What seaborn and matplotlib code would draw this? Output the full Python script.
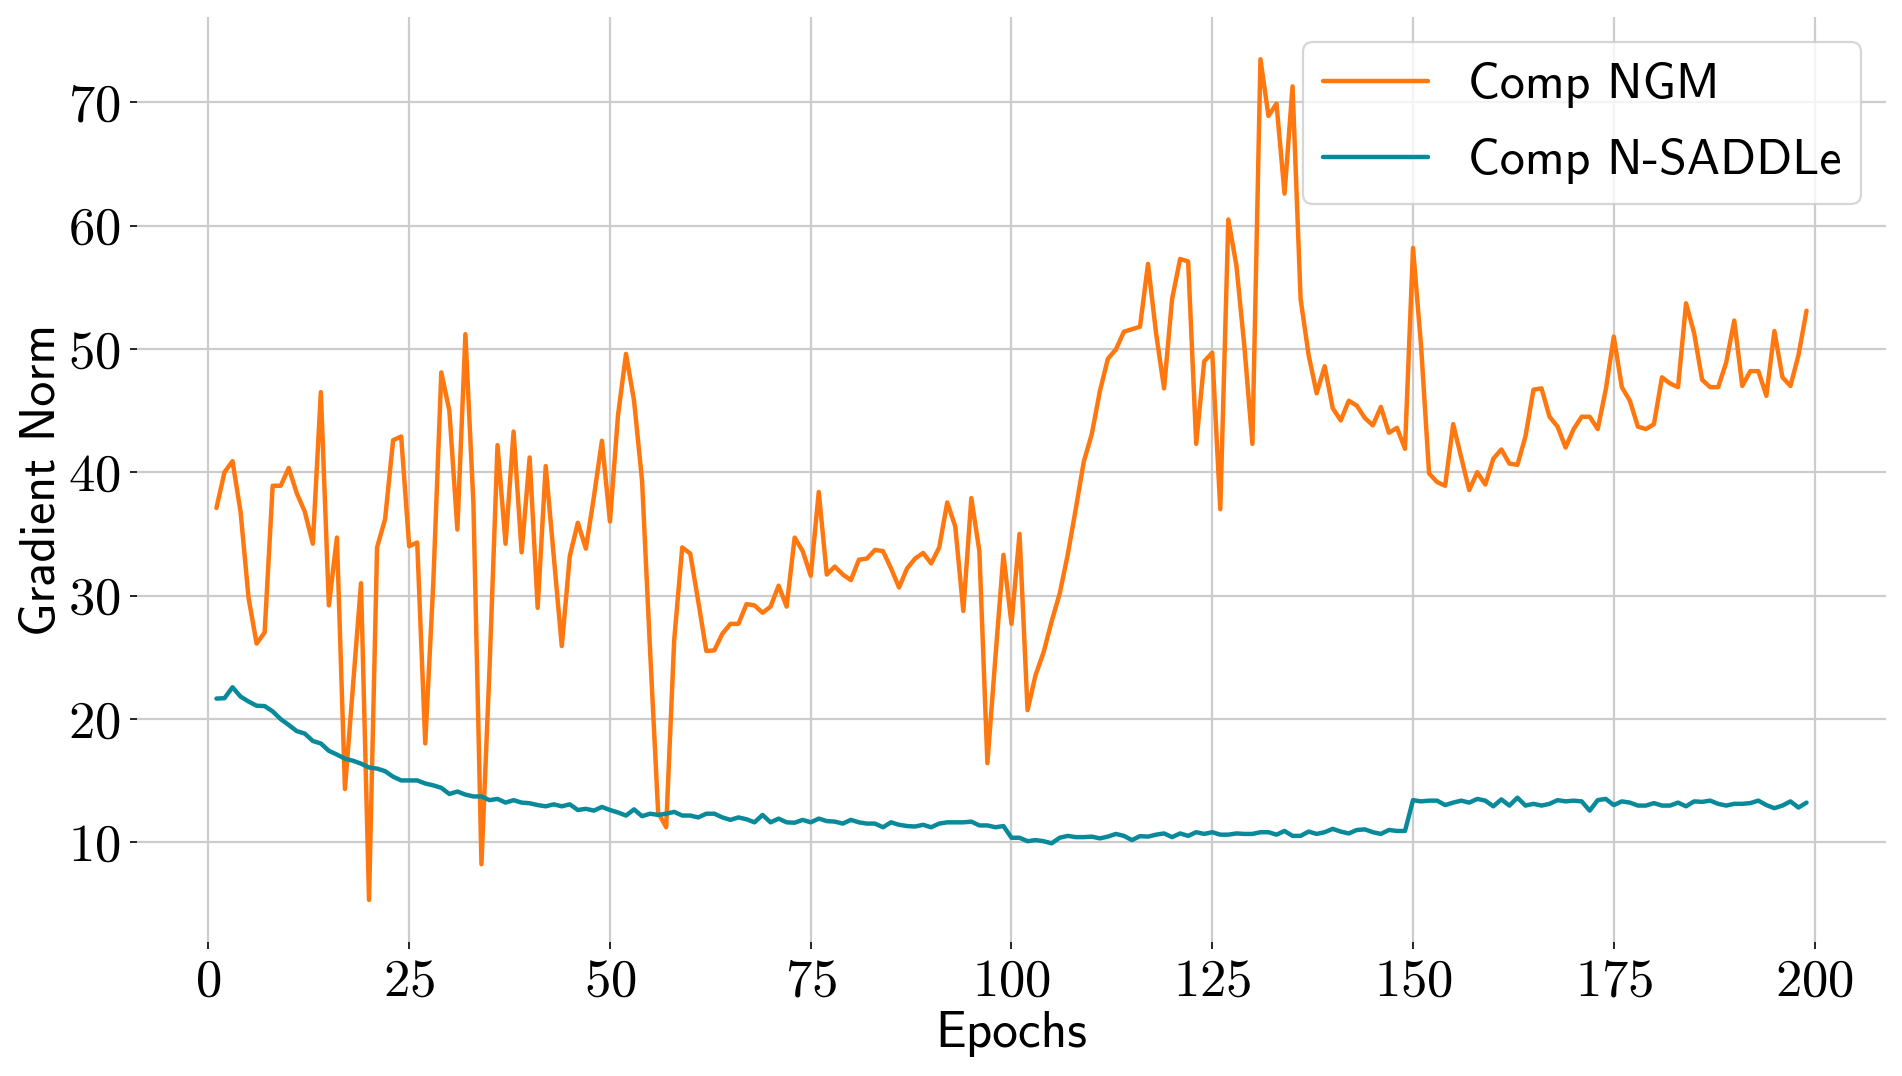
import pandas as pd
import matplotlib
matplotlib.use("Agg")
import matplotlib.pyplot as plt
import seaborn as sns

# Gradient norm per epoch
epochs = list(range(1, 200))

comp_ngm = [
    37.1, 40.0, 40.9, 36.8, 29.8, 26.1, 27.0, 38.9, 38.9, 40.35,
    38.3, 36.8, 34.2, 46.5, 29.2, 34.7, 14.3, 22.7, 31.0, 5.3,
    33.9, 36.2, 42.6, 42.9, 34.0, 34.3, 18.0, 31.0, 48.1, 45.0,
    35.35, 51.2, 37.4, 8.2, 24.0, 42.2, 34.2, 43.3, 33.5, 41.2,
    29.0, 40.5, 33.2, 25.9, 33.2, 35.9, 33.8, 38.0, 42.55, 36.0,
    44.6, 49.6, 45.8, 39.3, 25.5, 12.4, 11.2, 26.4, 33.9, 33.4,
    29.5, 25.5, 25.55, 26.9, 27.7, 27.7, 29.3, 29.2, 28.6, 29.1,
    30.8, 29.1, 34.7, 33.6, 31.6, 38.4, 31.7, 32.35, 31.7, 31.25,
    32.9, 33.0, 33.7, 33.6, 32.2, 30.65, 32.2, 33.0, 33.45, 32.6,
    33.9, 37.55, 35.6, 28.75, 37.9, 33.6, 16.4, 25.0, 33.3, 27.7,
    35.0, 20.7, 23.55, 25.4, 27.9, 30.15, 33.3, 37.0, 40.85, 43.1,
    46.55, 49.2, 49.96, 51.4, 51.6, 51.8, 56.9, 51.3, 46.8, 54.06,
    57.3, 57.1, 42.3, 49.0, 49.7, 37.0, 60.5, 56.8, 50.2, 42.3,
    73.5, 68.9, 69.9, 62.6, 71.3, 54.06, 49.5, 46.4, 48.6, 45.2,
    44.2, 45.8, 45.4, 44.4, 43.8, 45.3, 43.2, 43.6, 41.9, 58.2,
    50.25, 39.9, 39.2, 38.9, 43.9, 41.2, 38.55, 40.0, 39.0, 41.1,
    41.85, 40.7, 40.6, 42.9, 46.7, 46.8, 44.5, 43.7, 42.0, 43.5,
    44.5, 44.5, 43.5, 46.7, 51.0, 46.9, 45.8, 43.7, 43.5, 43.9,
    47.7, 47.2, 46.9, 53.7, 51.3, 47.5, 46.9, 46.9, 48.9, 52.3,
    47.0, 48.2, 48.2, 46.2, 51.45, 47.7, 47.0, 49.5, 53.1,
]

comp_nsaddle = [
    21.64, 21.67, 22.56, 21.8, 21.4, 21.06, 21.03, 20.6, 19.97, 19.5,
    19.0, 18.8, 18.2, 18.0, 17.4, 17.1, 16.76, 16.6, 16.36, 16.05,
    15.96, 15.75, 15.3, 15.0, 15.0, 15.0, 14.75, 14.6, 14.4, 13.9,
    14.1, 13.85, 13.7, 13.7, 13.4, 13.5, 13.2, 13.4, 13.2, 13.15,
    13.0, 12.9, 13.06, 12.9, 13.06, 12.6, 12.7, 12.55, 12.85, 12.6,
    12.4, 12.15, 12.65, 12.1, 12.3, 12.2, 12.3, 12.45, 12.15, 12.15,
    12.0, 12.3, 12.3, 12.0, 11.8, 12.0, 11.85, 11.6, 12.2, 11.6,
    11.9, 11.6, 11.57, 11.8, 11.6, 11.9, 11.7, 11.66, 11.5, 11.8,
    11.6, 11.5, 11.5, 11.2, 11.6, 11.4, 11.3, 11.26, 11.4, 11.2,
    11.5, 11.6, 11.6, 11.6, 11.66, 11.35, 11.35, 11.2, 11.3, 10.35,
    10.35, 10.07, 10.16, 10.07, 9.9, 10.35, 10.5, 10.4, 10.4, 10.44,
    10.3, 10.44, 10.66, 10.5, 10.16, 10.48, 10.44, 10.6, 10.7, 10.4,
    10.7, 10.5, 10.8, 10.66, 10.8, 10.6, 10.6, 10.7, 10.66, 10.66,
    10.8, 10.8, 10.6, 10.9, 10.5, 10.5, 10.85, 10.66, 10.8, 11.07,
    10.85, 10.7, 10.98, 11.03, 10.8, 10.66, 10.98, 10.9, 10.9, 13.4,
    13.3, 13.36, 13.36, 13.0, 13.2, 13.36, 13.2, 13.5, 13.36, 12.9,
    13.46, 12.96, 13.6, 12.96, 13.1, 12.96, 13.1, 13.4, 13.3, 13.36,
    13.3, 12.55, 13.4, 13.5, 13.0, 13.3, 13.2, 12.96, 12.96, 13.16,
    12.96, 12.96, 13.2, 12.9, 13.3, 13.26, 13.36, 13.1, 12.96, 13.1,
    13.1, 13.16, 13.36, 13.0, 12.75, 12.96, 13.3, 12.8, 13.2,
]

series_names = ["Comp NGM", "Comp N-SADDLe"]
x_ticks = [0, 25, 50, 75, 100, 125, 150, 175, 200]
y_ticks = [10, 20, 30, 40, 50, 60, 70]

sns.set_theme(style="whitegrid")
plt.rcParams.update({
    "font.family": ["cmr10"],
    "axes.formatter.use_mathtext": True,
    "text.color": "black",
    "axes.labelcolor": "black",
    "grid.color": "#cccccc",
    "grid.linewidth": 0.8,
    "xtick.bottom": True,
    "ytick.left": True,
    "xtick.major.size": 2.5,
    "ytick.major.size": 2.5,
    "xtick.major.width": 0.6,
    "ytick.major.width": 0.6,
    "xtick.color": "black",
    "ytick.color": "black",
    "xtick.labelsize": 19,
    "ytick.labelsize": 19,
})

COLORS = {"Comp NGM": "#ff770f", "Comp N-SADDLe": "#088a9b"}

df = pd.DataFrame({
    "Epochs": epochs * 2,
    "Gradient Norm": comp_ngm + comp_nsaddle,
    "Method": [series_names[0]] * len(epochs) + [series_names[1]] * len(epochs),
})

fig, ax = plt.subplots(figsize=(9.51, 5.38), dpi=200)
fig.subplots_adjust(left=0.072, right=0.9916, top=0.984, bottom=0.1245)

sns.lineplot(
    data=df,
    x="Epochs",
    y="Gradient Norm",
    hue="Method",
    palette=COLORS,
    linewidth=1.6,
    ax=ax,
)

ax.set_xticks(x_ticks)
ax.set_yticks(y_ticks)
for side in ["top", "right", "left", "bottom"]:
    ax.spines[side].set_visible(False)

ax.set_xlabel("Epochs", fontfamily="cmss10", fontsize=18.5, labelpad=2, color="black")
ax.set_ylabel("Gradient Norm", fontfamily="cmss10", fontsize=18, labelpad=1, color="black")

leg = ax.legend(
    loc="upper right",
    prop={"family": "cmss10", "size": 18},
    frameon=True,
    fancybox=True,
    handlelength=2.1,
    labelspacing=0.6,
)
leg.get_frame().set_edgecolor("#cccccc")
leg.get_frame().set_linewidth(0.8)
for txt in leg.get_texts():
    txt.set_color("black")

fig.savefig("out.png", dpi=200)
